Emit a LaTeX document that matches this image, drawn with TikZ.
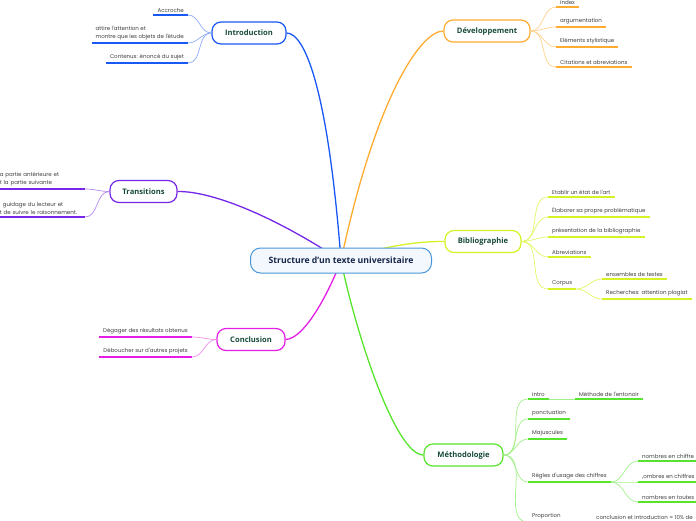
\documentclass[tikz,border=0pt]{standalone}
\usepackage{fontspec}
\usetikzlibrary{positioning, backgrounds}
\newfontfamily\leaffont{Poppins}
\newfontfamily\topicfont{Open Sans}
\definecolor{mapblue}{RGB}{26,88,245}
\definecolor{maporange}{RGB}{255,172,48}
\definecolor{mappurple}{RGB}{118,40,232}
\definecolor{maplime}{RGB}{214,242,36}
\definecolor{mapmagenta}{RGB}{228,30,228}
\definecolor{mapgreen}{RGB}{88,228,44}
\definecolor{rootblue}{RGB}{74,150,218}
\definecolor{rootfill}{RGB}{242,248,254}
\definecolor{topictext}{RGB}{24,74,60}
\definecolor{roottext}{RGB}{24,38,74}

\begin{document}
\begin{tikzpicture}[x=1pt, y=-1pt,
        root/.style={rectangle, rounded corners=10pt, draw=rootblue, fill=rootfill, line width=1pt, minimum width=181pt, minimum height=25pt, font=\topicfont\bfseries\fontsize{8.7}{10}\selectfont, text=roottext},
        topic/.style={rectangle, rounded corners=9pt, draw, fill=white, line width=1.2pt, minimum height=22pt, font=\topicfont\bfseries\fontsize{7.6}{9}\selectfont, text=topictext},
        leaf/.style={inner xsep=4pt, inner ysep=2.5pt, align=left, font=\leaffont\fontsize{5.5}{8}\selectfont, text=black!75},
        branch/.style={line width=1.3pt},
        twig/.style={line width=0.7pt},
        ul/.style={line width=1.8pt}
    ]
        \useasboundingbox (0,0) rectangle (696,520);
        \clip (0,0) rectangle (696,520);

        % Centre et branches principales
        \node[root] (root) at (341,260.5) {Structure d’un texte universitaire};
        \node[topic, draw=mapblue, minimum width=74pt] (intro) at (249,33) {Introduction};
        \node[topic, draw=maporange, minimum width=86pt] (dev) at (487,31) {Développement};
        \node[topic, draw=mappurple, minimum width=67pt] (trans) at (143.5,191.5) {Transitions};
        \node[topic, draw=maplime, minimum width=76pt] (bib) at (483,241.5) {Bibliographie};
        \node[topic, draw=mapmagenta, minimum width=68pt] (conc) at (251,339.5) {Conclusion};
        \node[topic, draw=mapgreen, minimum width=79pt] (meth) at (463.5,455) {Méthodologie};

        % Introduction
        \node[leaf, anchor=south east] (acc) at (188,15) {Accroche};
        \node[leaf, anchor=south east] (att) at (188,43) {attire l'attention et\\montre que les objets de l'étude};
        \node[leaf, anchor=south east] (cont) at (188,63) {Contenus: énoncé du sujet};

        % Transitions
        \node[leaf, anchor=south east, text width=81pt] (rel) at (85,189) {a partie antérieure et\\t la partie suivante};
        \node[leaf, anchor=south east, text width=81pt] (gui) at (85,217) {\hspace*{3pt}guidage du lecteur et\\t de suivre le raisonnement.};

        % Conclusion
        \node[leaf, anchor=south east] (deg) at (192,337) {Dégager des résultats obtenus};
        \node[leaf, anchor=south east] (deb) at (192,357) {Déboucher sur d'autres projets};

        % Developpement
        \node[leaf, anchor=south west] (idx) at (556,7) {index};
        \node[leaf, anchor=south west] (arg) at (556,27) {argumentation};
        \node[leaf, anchor=south west] (sty) at (556,47) {Eléments stylistique};
        \node[leaf, anchor=south west] (cit) at (556,67) {Citations et abreviations};

        % Bibliographie
        \node[leaf, anchor=south west] (etat) at (548,197) {Etablir un état de l'art};
        \node[leaf, anchor=south west] (prob) at (548,217) {Élaborer sa propre problématique};
        \node[leaf, anchor=south west] (pres) at (548,237) {présentation de la bibliographie};
        \node[leaf, anchor=south west] (abr) at (548,257) {Abreviations};
        \node[leaf, anchor=south west] (corp) at (548,289) {Corpus};
        \node[leaf, anchor=south west] (ens) at (602,279) {ensembles de textes};
        \node[leaf, anchor=south west] (plag) at (602,299) {Recherches: attention plagiat};

        % Methodologie
        \node[leaf, anchor=south west] (intr) at (528,399) {intro};
        \node[leaf, anchor=south west] (ento) at (575,399) {Méthode de l'entonoir};
        \node[leaf, anchor=south west] (ponc) at (528,419) {ponctuation};
        \node[leaf, anchor=south west] (maj) at (528,439) {Majuscules};
        \node[leaf, anchor=south west] (regl) at (528,482) {Règles d'usage des chiffres};
        \node[leaf, anchor=south west] (chf1) at (638,461) {nombres en chiffre};
        \node[leaf, anchor=south west] (chf2) at (638,482) {,ombres en chiffres};
        \node[leaf, anchor=south west] (lett) at (638,502) {nombres en toutes};
        \node[leaf, anchor=south west] (prop) at (528,522) {Proportion};
        \node[leaf, anchor=south west] (pct) at (592,522) {conclusion et introduction = 10\% de};

        \begin{scope}[on background layer]
            \draw[branch, mapblue] (intro.east) .. controls (305,33) and (328,90) .. (root.center);
            \draw[branch, maporange] (dev.west) .. controls (420,31) and (375,100) .. (root.center);
            \draw[branch, mappurple] (trans.east) .. controls (215,191) and (280,220) .. (root.center);
            \draw[branch, maplime] (bib.west) .. controls (410,241) and (370,250) .. (root.center);
            \draw[branch, mapmagenta] (conc.east) .. controls (305,339) and (330,290) .. (root.center);
            \draw[branch, mapgreen] (meth.west) .. controls (395,455) and (355,330) .. (root.center);
        \end{scope}

        % Liens vers les feuilles
        \foreach \n in {acc,att,cont}
            \draw[twig, mapblue!50] (intro.west) to[out=180,in=0] (\n.south east);
        \foreach \n in {rel,gui}
            \draw[twig, mappurple!55] (trans.west) to[out=180,in=0] (\n.south east);
        \foreach \n in {deg,deb}
            \draw[twig, mapmagenta!50] (conc.west) to[out=180,in=0] (\n.south east);
        \foreach \n in {idx,arg,sty,cit}
            \draw[twig, maporange!55] (dev.east) to[out=0,in=180] (\n.south west);
        \foreach \n in {etat,prob,pres,abr,corp}
            \draw[twig, maplime!70] (bib.east) to[out=0,in=180] (\n.south west);
        \foreach \n in {ens,plag}
            \draw[twig, maplime!70] (corp.south east) to[out=0,in=180] (\n.south west);
        \foreach \n in {intr,ponc,maj,regl,prop}
            \draw[twig, mapgreen!55] (meth.east) to[out=0,in=180] (\n.south west);
        \foreach \n in {chf1,chf2,lett}
            \draw[twig, mapgreen!55] (regl.south east) to[out=0,in=180] (\n.south west);
        \draw[twig, mapgreen!55] (intr.south east) -- (ento.south west);
        \draw[twig, mapgreen!55] (prop.south east) -- (pct.south west);

        % Soulignements
        \foreach \n in {acc,att,cont}
            \draw[ul, mapblue] (\n.south west) -- (\n.south east);
        \foreach \n in {rel,gui}
            \draw[ul, mappurple] (\n.south west) -- (\n.south east);
        \foreach \n in {deg,deb}
            \draw[ul, mapmagenta] (\n.south west) -- (\n.south east);
        \foreach \n in {idx,arg,sty,cit}
            \draw[ul, maporange] (\n.south west) -- (\n.south east);
        \foreach \n in {etat,prob,pres,abr,corp,ens,plag}
            \draw[ul, maplime] (\n.south west) -- (\n.south east);
        \foreach \n in {intr,ento,ponc,maj,regl,chf1,chf2,lett,prop,pct}
            \draw[ul, mapgreen] (\n.south west) -- (\n.south east);
\end{tikzpicture}
\end{document}
